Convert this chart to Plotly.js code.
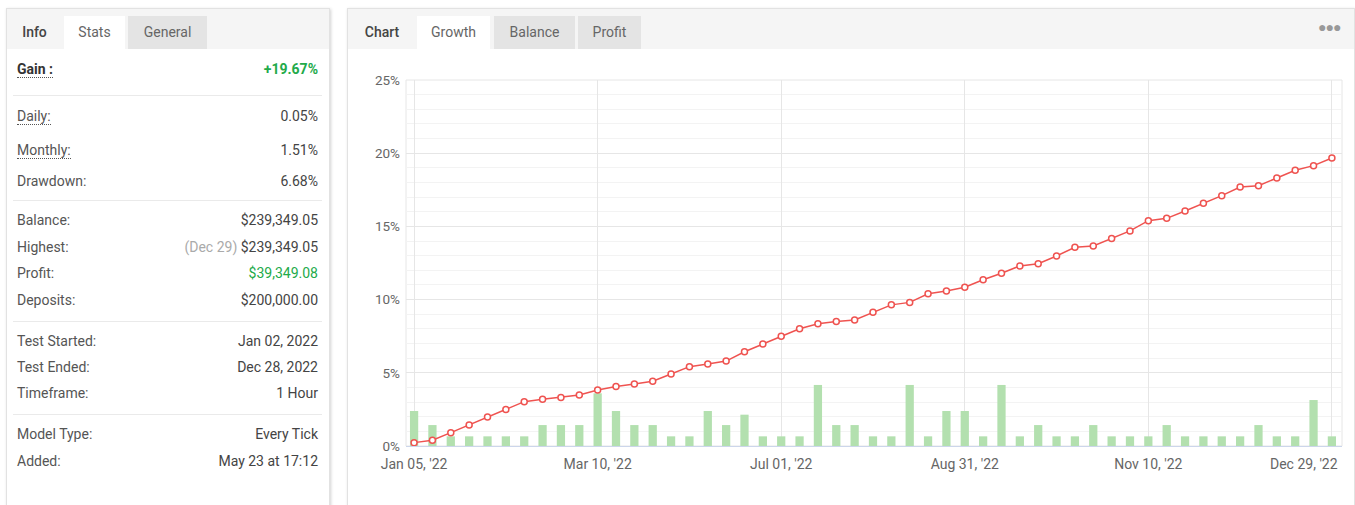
<!DOCTYPE html>
<html>
<head>
<meta charset="utf-8">
<script src="https://cdn.plot.ly/plotly-3.0.1.min.js"></script>
<style>
  html, body { margin:0; padding:0; background:#fff; width:1355px; height:505px; overflow:hidden;
    font-family: Roboto, "Noto Sans", Arial, sans-serif; }
  .card { position:absolute; background:#fff; border:1px solid #e2e2e2; box-shadow: 1px 1px 3px rgba(0,0,0,0.18); }
  .tabbar { position:absolute; left:0; top:0; right:0; height:40px; background:#f5f5f5; }
  .tab { position:absolute; top:7px; height:33px; line-height:33px; font-size:14px; color:#666; text-align:center; }
  .tab.active { background:#fff; }
  .tab.gray { background:#e4e4e4; }
  .tab.head { color:#444; font-weight:500; background:transparent; }
  .row { position:absolute; height:20px; line-height:20px; font-size:14px; color:#555; }
  .lbl { left:17px; }
  .val { right:1037px; text-align:right; color:#444; }
  .dot { border-bottom:1px dotted #555; padding-bottom:0px; }
  .hr { position:absolute; left:13px; width:309px; height:1px; background:#eaeaea; }
  #chart { position:absolute; left:348px; top:48px; width:1005px; height:457px; }
</style>
</head>
<body>
<div class="card" style="left:6px; top:8px; width:322px; height:510px;">
  <div class="tabbar">
    <div class="tab head" style="left:0px; width:55px;">Info</div>
    <div class="tab active" style="left:57px; width:61px;">Stats</div>
    <div class="tab gray" style="left:121px; width:79px;">General</div>
  </div>
</div>
<div id="stats"></div>

<div class="card" style="left:347px; top:8px; width:1006px; height:510px;">
  <div class="tabbar">
    <div class="tab head" style="left:0px; width:68px;">Chart</div>
    <div class="tab active" style="left:69px; width:73px;">Growth</div>
    <div class="tab gray" style="left:146px; width:81px;">Balance</div>
    <div class="tab gray" style="left:230px; width:63px;">Profit</div>
    <div style="position:absolute; left:970px; top:10px; font-size:14px; color:#999; letter-spacing:-1px;">&#9679;&#9679;&#9679;</div>
  </div>
</div>
<div id="chart"></div>

<script>
// ---- Stats panel data ----
const statLabels = ["Daily:", "Monthly:", "Drawdown:", "Balance:", "Highest:", "Profit:", "Deposits:",
                    "Test Started:", "Test Ended:", "Timeframe:", "Model Type:", "Added:"];
const statValues = ["0.05%", "1.51%", "6.68%", "$239,349.05", "$239,349.05", "$39,349.08", "$200,000.00",
                    "Jan 02, 2022", "Dec 28, 2022", "1 Hour", "Every Tick", "May 23 at 17:12"];
const statRowY = [116, 150, 181, 220, 247, 273, 300, 341, 367, 393, 434, 461];
const dottedLabels = ["Daily:", "Monthly:"];
const gainLabel = "Gain :";
const gainValue = "+19.67%";
const highestDate = "(Dec 29)";

// ---- Chart data ----
const tickLabels = ["Jan 05, '22", "Mar 10, '22", "Jul 01, '22", "Aug 31, '22", "Nov 10, '22", "Dec 29, '22"];
const tickPositions = [0, 10, 20, 30, 40, 50];
const growth = [0.23,0.39,0.91,1.43,1.98,2.50,3.03,3.19,3.32,3.48,
                3.83,4.07,4.23,4.42,4.92,5.42,5.60,5.80,6.44,6.97,
                7.49,8.01,8.35,8.51,8.61,9.13,9.64,9.81,10.40,10.59,
                10.84,11.36,11.80,12.30,12.45,12.98,13.57,13.66,14.18,14.69,
                15.39,15.55,16.05,16.58,17.10,17.69,17.78,18.31,18.83,19.15,19.67];
const bars = [2.39,1.43,0.66,0.66,0.66,0.66,0.66,1.43,1.43,1.43,
              3.60,2.39,1.43,1.43,0.66,0.66,2.39,1.43,2.14,0.66,
              0.66,0.66,4.17,1.43,1.43,0.66,0.66,4.17,0.66,2.39,
              2.39,0.66,4.17,0.66,1.43,0.66,0.66,1.43,0.66,0.66,
              0.66,1.43,0.66,0.66,0.66,0.66,1.43,0.66,0.66,3.14,0.66];
const yTicks = [0, 5, 10, 15, 20, 25];
const yTickLabels = ["0%", "5%", "10%", "15%", "20%", "25%"];

// ---- Build stats panel ----
const st = document.getElementById('stats');
function addRow(y, lblHtml, valHtml) {
  const l = document.createElement('div'); l.className = 'row lbl'; l.style.top = (y - 10) + 'px'; l.innerHTML = lblHtml; st.appendChild(l);
  const v = document.createElement('div'); v.className = 'row val'; v.style.top = (y - 10) + 'px'; v.innerHTML = valHtml; st.appendChild(v);
}
addRow(69, '<span class="dot" style="font-weight:700;color:#333;">' + gainLabel + '</span>',
       '<span style="font-weight:700;color:#22aa4a;">' + gainValue + '</span>');
statLabels.forEach((lab, i) => {
  let lh = dottedLabels.includes(lab) ? '<span class="dot">' + lab + '</span>' : lab;
  let vh = statValues[i];
  if (lab === "Profit:") vh = '<span style="color:#22aa4a;">' + vh + '</span>';
  if (lab === "Highest:") vh = '<span style="color:#aaa;">' + highestDate + '</span> ' + vh;
  addRow(statRowY[i], lh, vh);
});
[95, 200, 321, 414].forEach(y => {
  const h = document.createElement('div'); h.className = 'hr'; h.style.top = y + 'px'; st.appendChild(h);
});

// ---- Chart ----
const xs = growth.map((_, i) => i);
const lastIdx = tickPositions.length - 1;
const traces = [
  { type:'bar', x: xs, y: bars, marker:{ color:'#b3e0af' }, width:0.45, hoverinfo:'skip' },
  { type:'scatter', mode:'lines+markers', x: xs, y: growth,
    line:{ color:'#ef5350', width:1.5 },
    marker:{ symbol:'circle', size:6, color:'#ffffff', line:{ color:'#ef5350', width:1.5 } } }
];
const layout = {
  width:1005, height:457,
  margin:{ l:58, r:11, t:32, b:59 },
  paper_bgcolor:'rgba(0,0,0,0)', plot_bgcolor:'#ffffff',
  showlegend:false,
  font:{ family:'Roboto, sans-serif', size:13, color:'#666' },
  xaxis:{
    range:[-0.44, 50.55], tickmode:'array',
    tickvals: tickPositions,
    ticktext: tickLabels.map((t, i) => i === lastIdx ? '' : t),
    showgrid:true, gridcolor:'#e6e6e6', gridwidth:1, zeroline:false,
    showline:true, linecolor:'#ccd6eb', linewidth:1, ticks:'', ticklabelstandoff:5,
    tickfont:{ size:14, color:'#666' }
  },
  yaxis:{
    range:[0, 25], tickmode:'array', tickvals: yTicks, ticktext: yTickLabels,
    showgrid:true, gridcolor:'#e6e6e6', gridwidth:1, zeroline:false,
    minor:{ dtick:1, showgrid:true, gridcolor:'#f3f3f3', gridwidth:1 },
    showline:false, ticks:'', ticklabelstandoff:5,
    tickfont:{ size:13.5, color:'#666' }
  },
  annotations:[
    { xref:'x', yref:'paper', x: tickPositions[lastIdx], y:0, xanchor:'right', yanchor:'top',
      xshift:8, yshift:-8, showarrow:false, text: tickLabels[lastIdx],
      font:{ family:'Roboto, sans-serif', size:14, color:'#666' } }
  ],
  shapes:[
    { type:'rect', xref:'paper', yref:'paper', x0:0, x1:1, y0:0, y1:1, layer:'below',
      line:{ color:'#e6e6e6', width:1 }, fillcolor:'rgba(0,0,0,0)' }
  ],
  bargap:0.5
};
Plotly.newPlot('chart', traces, layout, { displayModeBar:false, staticPlot:true });
</script>
</body>
</html>
